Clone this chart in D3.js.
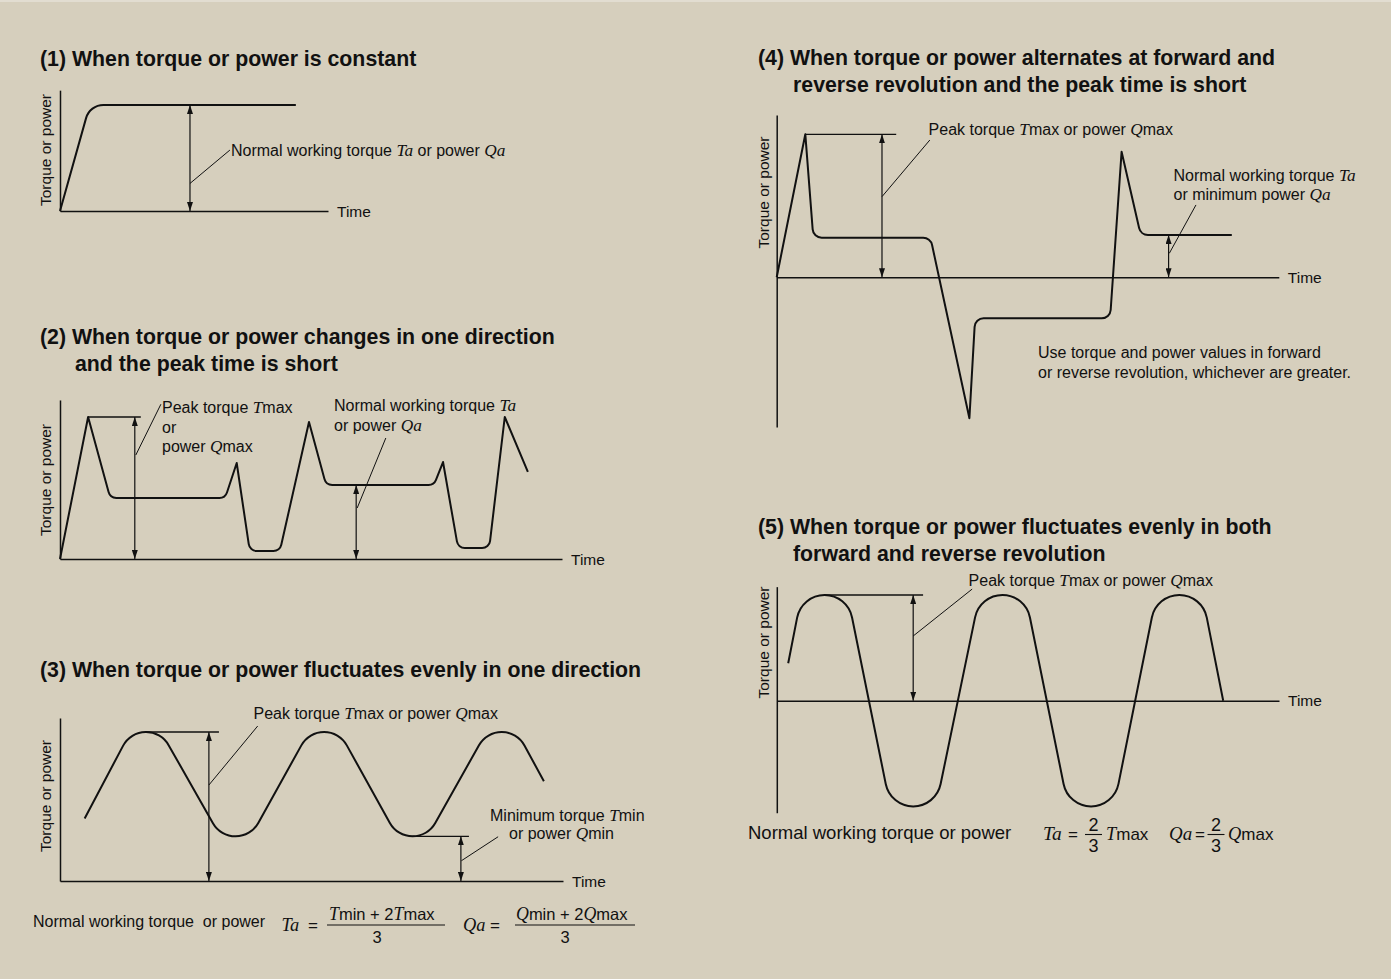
<!DOCTYPE html>
<html><head><meta charset="utf-8">
<script src="https://cdn.jsdelivr.net/npm/d3@7"></script>
<style>
html,body{margin:0;padding:0;background:#d6cfbd;}
svg{display:block;}
text{font-family:"Liberation Sans",Arial,Helvetica,sans-serif;fill:#111;}
.m{font-family:"Liberation Serif","Times New Roman",serif;font-style:italic;}
</style></head><body>
<script>
// ================= DATA =================
const titles = [
  ["(1) When torque or power is constant"],
  ["(2) When torque or power changes in one direction", "and the peak time is short"],
  ["(3) When torque or power fluctuates evenly in one direction"],
  ["(4) When torque or power alternates at forward and", "reverse revolution and the peak time is short"],
  ["(5) When torque or power fluctuates evenly in both", "forward and reverse revolution"]
];
const axisLabelY = "Torque or power";
const axisLabelX = "Time";

// Panel 1 : constant
const panel1Curve = [{t:0,v:0},{t:11.1,v:100,k:"round"},{t:88,v:100}];
const panel1RefLines = [];
const panel1Arrows = [{t:48.5,v0:0,v1:100}];
const panel1Leaders = [{t0:48.5,v0:26,t1:63.4,v1:57.5}];
const panel1AxisY = [0,114];

// Panel 2 : one direction, short peaks
const panel2Curve = [
  {t:0,v:0},{t:5.6,v:100},{t:10.0,v:43.0,k:"round"},{t:32.9,v:43.0,k:"round"},{t:35.2,v:67.6},
  {t:37.8,v:5.6,k:"round"},{t:43.8,v:5.6,k:"round"},{t:49.6,v:96.5},{t:53.0,v:52.1,k:"round"},
  {t:74.5,v:52.1,k:"round"},{t:76.3,v:68.3},{t:79.3,v:7.7,k:"round"},{t:85.5,v:7.7,k:"round"},
  {t:88.6,v:100},{t:93.2,v:61.3}
];
const panel2RefLines = [{t0:5.6,t1:16.1,v:100}];
const panel2Arrows = [{t:14.9,v0:0,v1:100},{t:59.0,v0:0,v1:52.1}];
const panel2Leaders = [{t0:15.1,v0:73.2,t1:20.1,v1:109},{t0:59.2,v0:35.9,t1:64.9,v1:85.2}];
const panel2AxisY = [0,112];

// Panel 3 : even fluctuation, one direction (start, extremes..., end)
const panel3Curve = [{t:4.9,v:42},{t:17.1,v:100},{t:34.9,v:30},{t:52.5,v:100},{t:70.1,v:30},{t:87.8,v:100},{t:96.2,v:67}];
const panel3RefLines = [{t0:17.1,t1:31.6,v:100},{t0:70.1,t1:81.3,v:30}];
const panel3Arrows = [{t:29.6,v0:0,v1:100},{t:79.7,v0:0,v1:30}];
const panel3Leaders = [{t0:29.6,v0:64.4,t1:39.3,v1:104},{t0:79.8,v0:13.6,t1:87.1,v1:29.7}];
const panel3AxisY = [0,109.4];

// Panel 4 : alternating forward / reverse, short peaks
const panel4Curve = [
  {t:0,v:0},{t:5.7,v:100},{t:7.29,v:27.7,k:"round"},{t:30.63,v:27.7,k:"round"},{t:38.38,v:-98.6},
  {t:39.51,v:-28.7,k:"round"},{t:66.40,v:-28.7,k:"round"},{t:68.69,v:87.8},{t:72.50,v:29.6,k:"round"},{t:90.64,v:29.6}
];
const panel4RefLines = [{t0:5.7,t1:23.8,v:100}];
const panel4Arrows = [{t:20.97,v0:0,v1:100},{t:78.05,v0:0,v1:29.6}];
const panel4Leaders = [{t0:20.97,v0:56.4,t1:30.5,v1:96},{t0:78.2,v0:16.8,t1:83.5,v1:50.6}];
const panel4AxisY = [-104.7,113.5];

// Panel 5 : even fluctuation, both directions (start, extremes..., end)
const panel5Curve = [{t:2.27,v:35.4},{t:9.52,v:100},{t:27.16,v:-100},{t:44.94,v:100},{t:62.57,v:-100},{t:80.15,v:100},{t:88.89,v:0}];
const panel5RefLines = [{t0:9.52,t1:29.13,v:100}];
const panel5Arrows = [{t:27.16,v0:0,v1:100}];
const panel5Leaders = [{t0:27.16,v0:61.2,t1:38.9,v1:105.6}];
const panel5AxisY = [-106,107.9];

// Text labels (parts: [text, "m"] = math italic)
const lblNormal1 = [["Normal working torque "],["Ta","m"],[" or power "],["Qa","m"]];
const lblPeak2 = [[["Peak torque "],["T","m"],["max"]],[["or"]],[["power "],["Q","m"],["max"]]];
const lblNormal2 = [[["Normal working torque "],["Ta","m"]],[["or power "],["Qa","m"]]];
const lblPeakOne = [["Peak torque "],["T","m"],["max or power "],["Q","m"],["max"]];
const lblMin3 = [[["Minimum torque "],["T","m"],["min"]],[["or power "],["Q","m"],["min"]]];
const lblNormal4 = [[["Normal working torque "],["Ta","m"]],[["or minimum power "],["Qa","m"]]];
const lblNote4 = ["Use torque and power values in forward","or reverse revolution, whichever are greater."];
const lblFormula3 = "Normal working torque  or power";
const lblFormula5 = "Normal working torque or power";
const fracT3 = [["T","m"],["min + 2"],["T","m"],["max"]];
const fracQ3 = [["Q","m"],["min + 2"],["Q","m"],["max"]];

// ================= DRAW =================
const W = 1391, H = 979;
const svg = d3.select("body").append("svg").attr("width", W).attr("height", H);
svg.append("rect").attr("width", W).attr("height", H).attr("fill", "#d6cfbd");
svg.append("rect").attr("width", W).attr("height", 2).attr("fill", "#e2ddd1");

const defs = svg.append("defs");
defs.append("marker").attr("id","ah").attr("viewBox","0 0 9 6").attr("markerWidth",9).attr("markerHeight",6)
  .attr("refX",9).attr("refY",3).attr("orient","auto-start-reverse").attr("markerUnits","userSpaceOnUse")
  .append("path").attr("d","M0,0L9,3L0,6Z").attr("fill","#111");

function rich(g, x, y, parts, size, anchor) {
  const t = g.append("text").attr("x", x).attr("y", y).style("font-size", size + "px")
    .attr("text-anchor", anchor || "start");
  parts.forEach(p => {
    const s = t.append("tspan").text(p[0]);
    if (p[1] === "m") s.attr("class", "m").style("font-size", "1.08em");
  });
  return t;
}

function cornerPath(pts, x, y, r) {
  const p = d3.path();
  const P = pts.map(d => [x(d.t), y(d.v), d.k]);
  p.moveTo(P[0][0], P[0][1]);
  for (let i = 1; i < P.length - 1; i++) {
    if (P[i][2] === "round") p.arcTo(P[i][0], P[i][1], P[i + 1][0], P[i + 1][1], r);
    else p.lineTo(P[i][0], P[i][1]);
  }
  p.lineTo(P[P.length - 1][0], P[P.length - 1][1]);
  return p.toString();
}

// straight flanks with circular rounded extremes
function wavePath(pts, x, y, r) {
  const P = pts.map(d => ({x: x(d.t), y: y(d.v)}));
  const S = P[0], F = P[P.length - 1];
  const ext = [];
  for (let i = 1; i < pts.length - 1; i++) {
    const peak = pts[i].v >= pts[i - 1].v && pts[i].v >= pts[i + 1].v;
    ext.push({peak, cx: P[i].x, cy: P[i].y + (peak ? r : -r)});
  }
  function tang(pt, c) {
    const dx = pt.x - c.cx, dy = pt.y - c.cy, d = Math.hypot(dx, dy);
    const phi = Math.atan2(dy, dx), a = Math.acos(Math.min(1, r / d));
    const a1 = phi + a, a2 = phi - a;
    const y1 = c.cy + r * Math.sin(a1), y2 = c.cy + r * Math.sin(a2);
    if (c.peak) return y1 < y2 ? a1 : a2;
    return y1 > y2 ? a1 : a2;
  }
  const p = d3.path();
  p.moveTo(S.x, S.y);
  ext.forEach((c, i) => {
    const inPt = i === 0 ? S : {x: (ext[i - 1].cx + c.cx) / 2, y: (ext[i - 1].cy + c.cy) / 2};
    const outPt = i === ext.length - 1 ? F : {x: (ext[i + 1].cx + c.cx) / 2, y: (ext[i + 1].cy + c.cy) / 2};
    p.arc(c.cx, c.cy, r, tang(inPt, c), tang(outPt, c), !c.peak);
  });
  p.lineTo(F.x, F.y);
  return p.toString();
}

function panel(cfg) {
  const g = svg.append("g");
  const x = d3.scaleLinear().domain([0, 100]).range(cfg.xr);
  const y = d3.scaleLinear().domain([0, 100]).range(cfg.yr);
  // axes
  g.append("g").attr("transform", `translate(0,${y(0)})`)
    .call(d3.axisBottom(x).tickValues([]).tickSizeOuter(0));
  const ys = d3.scaleLinear().domain(cfg.axisY).range(cfg.axisY.map(y));
  g.append("g").attr("transform", `translate(${x(0)},0)`)
    .call(d3.axisLeft(ys).tickValues([]).tickSizeOuter(0));
  g.selectAll(".domain").attr("stroke", "#111").attr("stroke-width", 1.5);
  g.append("text").attr("x", x(100) + 9).attr("y", y(0) + 5.5).style("font-size", "15.5px").text(axisLabelX);
  g.append("text").attr("transform", `translate(${cfg.ylx},${cfg.yly}) rotate(-90)`)
    .attr("text-anchor", "middle").style("font-size", "15.5px").text(axisLabelY);
  // curve
  g.append("path").attr("d", cfg.wave ? wavePath(cfg.curve, x, y, cfg.r) : cornerPath(cfg.curve, x, y, cfg.r))
    .attr("fill", "none").attr("stroke", "#111").attr("stroke-width", 2).attr("stroke-linejoin", "round");
  // reference lines
  g.selectAll(".ref").data(cfg.refs).join("line")
    .attr("x1", d => x(d.t0)).attr("x2", d => x(d.t1)).attr("y1", d => y(d.v)).attr("y2", d => y(d.v))
    .attr("stroke", "#111").attr("stroke-width", 1.3);
  // arrows
  g.selectAll(".arr").data(cfg.arrows).join("line")
    .attr("x1", d => x(d.t)).attr("x2", d => x(d.t)).attr("y1", d => y(d.v0)).attr("y2", d => y(d.v1))
    .attr("stroke", "#111").attr("stroke-width", 1.2)
    .attr("marker-start", "url(#ah)").attr("marker-end", "url(#ah)");
  // leaders
  g.selectAll(".ldr").data(cfg.leaders).join("line")
    .attr("x1", d => x(d.t0)).attr("x2", d => x(d.t1)).attr("y1", d => y(d.v0)).attr("y2", d => y(d.v1))
    .attr("stroke", "#111").attr("stroke-width", 1);
  return g;
}

function title(lines, pos) {
  lines.forEach((s, i) => {
    svg.append("text").attr("x", pos[i][0]).attr("y", pos[i][1])
      .style("font-size", "21.3px").style("font-weight", "bold").text(s);
  });
}

// ---- Panel 1
title(titles[0], [[40, 65.5]]);
const g1 = panel({xr:[60,328], yr:[211,105], axisY:panel1AxisY, curve:panel1Curve, r:18, refs:panel1RefLines,
  arrows:panel1Arrows, leaders:panel1Leaders, ylx:51, yly:150});
rich(g1, 231, 156, lblNormal1, 16);

// ---- Panel 2
title(titles[1], [[40, 343.5], [75, 370.5]]);
const g2 = panel({xr:[60,562], yr:[559,417], axisY:panel2AxisY, curve:panel2Curve, r:8, refs:panel2RefLines,
  arrows:panel2Arrows, leaders:panel2Leaders, ylx:51, yly:480});
lblPeak2.forEach((parts, i) => rich(g2, 162, 413 + i * 19.5, parts, 16));
lblNormal2.forEach((parts, i) => rich(g2, 334, 410.5 + i * 20, parts, 16));

// ---- Panel 3
title(titles[2], [[40, 676.5]]);
const g3 = panel({xr:[60,563], yr:[881,732], axisY:panel3AxisY, curve:panel3Curve, wave:true, r:26, refs:panel3RefLines,
  arrows:panel3Arrows, leaders:panel3Leaders, ylx:51, yly:796});
rich(g3, 253.5, 718.5, lblPeakOne, 16);
rich(g3, 490, 820.5, lblMin3[0], 16);
rich(g3, 509, 839, lblMin3[1], 16);
g3.append("text").attr("x", 33).attr("y", 926.5).style("font-size", "16px").style("white-space", "pre").text(lblFormula3);
rich(g3, 281.5, 931, [["Ta","m"]], 17);
g3.append("text").attr("x", 308).attr("y", 931).style("font-size", "17px").text("=");
g3.append("line").attr("x1", 327).attr("x2", 445).attr("y1", 925).attr("y2", 925).attr("stroke", "#111").attr("stroke-width", 1);
rich(g3, 329, 920, fracT3, 16.5);
g3.append("text").attr("x", 377).attr("y", 943).attr("text-anchor", "middle").style("font-size", "16.5px").text("3");
rich(g3, 463, 931, [["Qa","m"]], 17);
g3.append("text").attr("x", 490).attr("y", 931).style("font-size", "17px").text("=");
g3.append("line").attr("x1", 515).attr("x2", 635).attr("y1", 925).attr("y2", 925).attr("stroke", "#111").attr("stroke-width", 1);
rich(g3, 516, 920, fracQ3, 16.5);
g3.append("text").attr("x", 565).attr("y", 943).attr("text-anchor", "middle").style("font-size", "16.5px").text("3");

// ---- Panel 4
title(titles[3], [[758, 64.5], [793, 91.5]]);
const g4 = panel({xr:[776.7,1278.8], yr:[277.3,134.3], axisY:panel4AxisY, curve:panel4Curve, r:9, refs:panel4RefLines,
  arrows:panel4Arrows, leaders:panel4Leaders, ylx:769, yly:192.5});
rich(g4, 928.6, 134.5, lblPeakOne, 16);
lblNormal4.forEach((parts, i) => rich(g4, 1173.5, 180.5 + i * 19, parts, 16));
lblNote4.forEach((s, i) => g4.append("text").attr("x", 1038).attr("y", 357.5 + i * 20).style("font-size", "16px").text(s));

// ---- Panel 5
title(titles[4], [[758, 533.5], [793, 560.5]]);
const g5 = panel({xr:[776.8,1279], yr:[700.7,595], axisY:panel5AxisY, curve:panel5Curve, wave:true, r:28, refs:panel5RefLines,
  arrows:panel5Arrows, leaders:panel5Leaders, ylx:769, yly:642.5});
rich(g5, 968.6, 585.5, lblPeakOne, 16);
g5.append("text").attr("x", 748).attr("y", 838.5).style("font-size", "18.5px").text(lblFormula5);
function twoThirds(g, cx) {
  g.append("text").attr("x", cx).attr("y", 831).attr("text-anchor", "middle").style("font-size", "18px").text("2");
  g.append("line").attr("x1", cx - 8.5).attr("x2", cx + 8.5).attr("y1", 834.5).attr("y2", 834.5).attr("stroke", "#111").attr("stroke-width", 1.1);
  g.append("text").attr("x", cx).attr("y", 852).attr("text-anchor", "middle").style("font-size", "18px").text("3");
}
rich(g5, 1043, 840, [["Ta","m"]], 18);
g5.append("text").attr("x", 1068).attr("y", 840).style("font-size", "17px").text("=");
twoThirds(g5, 1093.5);
rich(g5, 1106, 840, [["T","m"],["max"]], 17);
rich(g5, 1169, 840, [["Qa","m"]], 17.5);
g5.append("text").attr("x", 1195).attr("y", 840).style("font-size", "17px").text("=");
twoThirds(g5, 1216);
rich(g5, 1228, 840, [["Q","m"],["max"]], 17);
</script>
</body></html>
